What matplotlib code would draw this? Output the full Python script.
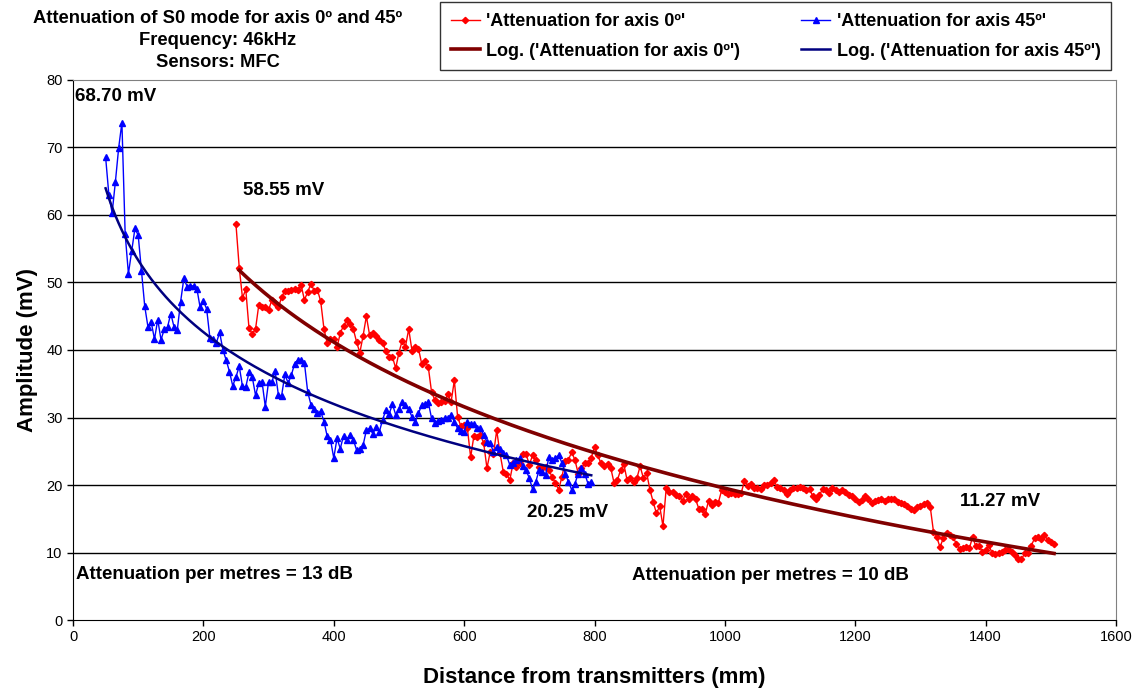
import numpy as np
import matplotlib.pyplot as plt

plt.rcParams['font.family'] = ['Liberation Sans', 'DejaVu Sans']

# sampling grid (mm)
step_mm = 5
start_45 = 50
start_0 = 250

# amplitude (mV), axis 45º
amp_45 = [
    68.6, 63.0, 60.3, 64.9, 69.9, 73.7, 57.2, 51.3, 54.7, 58.0, 57.0, 51.7, 46.5, 43.4, 44.1, 41.6,
    44.5, 41.5, 43.1, 43.4, 45.4, 43.4, 43.0, 47.1, 50.6, 49.4, 49.5, 49.5, 49.1, 46.3, 47.2, 46.1,
    41.8, 41.7, 41.1, 42.6, 40.0, 38.5, 36.8, 34.7, 36.0, 37.6, 34.6, 34.5, 36.7, 36.0, 33.3,
    35.1, 35.3, 31.6, 35.3, 35.2, 36.9, 33.4, 33.2, 36.4, 35.1, 36.3, 38.0, 38.5, 38.5, 38.1, 33.8,
    31.9, 31.2, 30.6, 30.9, 29.4, 27.2, 26.7, 24.0, 26.9, 25.4, 27.3, 26.7, 27.4, 26.7, 25.2, 25.3,
    25.9, 28.1, 28.4, 27.6, 28.6, 27.9, 29.7, 31.1, 30.5, 32.0, 30.4, 31.2, 32.3, 31.9, 31.2, 30.1,
    29.4, 30.6, 31.9, 32.0, 32.3, 29.9, 29.2, 29.5,
    29.6, 29.9, 29.9, 30.4, 29.4, 28.4, 28.0, 27.9, 29.4, 29.1, 29.0, 28.4, 28.4, 27.4, 26.4, 26.2,
    24.9, 25.7, 25.4, 24.7, 24.4, 23.0, 23.2, 23.7, 24.0, 22.8, 22.2, 21.0, 19.4, 20.5, 22.2, 22.0,
    21.5, 24.2, 23.7, 24.0, 24.4, 23.3, 21.7, 20.5, 19.3, 20.2, 21.7, 22.5, 21.7, 20.2, 20.5,
]

# amplitude (mV), axis 0º
amp_0 = [
    58.6, 52.2, 47.7, 49.0, 43.2, 42.4, 43.1, 46.7, 46.4, 46.3, 45.9, 47.4, 46.9, 46.3, 47.8, 48.8,
    48.8, 48.9, 49.0, 48.9, 49.6, 47.4, 48.6, 49.8, 48.8, 48.9, 47.2, 43.1, 41.0, 41.7, 41.6, 40.4,
    42.5, 43.6, 44.4, 43.9, 43.1, 41.2, 39.6, 42.1, 45.0, 42.2, 42.5, 42.0, 41.5, 41.0, 39.9, 39.0,
    39.0, 37.3, 39.6, 41.4, 40.5, 43.1, 39.9, 40.4, 40.2, 37.9, 38.3, 37.5, 33.8, 32.6, 32.2, 32.3,
    32.4, 33.5, 32.3, 35.5, 30.1,
    28.7, 28.9, 28.4, 24.1, 27.3, 27.1, 27.4, 26.2, 22.5, 24.9, 24.6, 28.1, 24.7, 22.0, 21.7, 20.7,
    23.2, 22.7, 23.2, 24.6, 24.6, 23.0, 24.4, 23.7, 22.7, 22.5, 22.7, 22.2, 21.2, 20.3, 19.3, 21.2,
    23.5, 23.7, 24.9, 23.7, 21.7, 22.5, 23.2, 23.3, 24.0, 25.7, 24.4, 23.2, 22.8, 23.1, 22.5, 20.3,
    20.7, 22.2,
    23.1, 20.7, 21.0, 20.5, 21.0, 22.8, 21.0, 21.8, 19.3, 17.5, 15.8, 16.9, 13.9, 19.5, 18.9, 19.0,
    18.5, 18.3, 17.7, 18.7, 18.0, 18.4, 17.9, 16.5, 16.4, 15.7, 17.7, 17.0, 17.5, 17.4, 19.2, 18.9,
    18.7, 18.8, 18.7, 18.6, 18.8, 20.6, 19.9, 20.2, 19.5, 19.5, 19.4, 20.0, 20.0, 20.3, 20.8, 19.7,
    19.5, 19.3, 18.7, 19.3, 19.5, 19.5, 19.7, 19.5,
    19.3, 19.4, 18.3, 18.0, 18.5, 19.4, 19.3, 18.8, 19.5, 19.3, 19.0, 19.3, 18.9, 18.5, 18.3, 18.0,
    17.5, 17.8, 18.4, 18.0, 17.3, 17.7, 17.8, 17.9, 17.6,
    18.0, 17.9, 17.9, 17.5, 17.3, 17.2, 16.9, 16.5, 16.3, 16.8, 16.9, 17.2, 17.4, 16.8, 13.1, 12.3,
    10.8, 12.1, 12.9, 12.6, 12.3, 11.3, 10.5, 10.6, 10.8, 10.6, 12.3, 10.9, 11.0, 10.1, 10.3, 11.1,
    9.9, 9.8, 10.0, 10.1, 10.3, 10.5, 10.1, 9.6, 9.1, 9.0, 9.9, 10.0, 11.0, 12.1, 12.3, 12.0,
    12.6, 11.9, 11.6, 11.3,
]

x_45 = start_45 + step_mm * np.arange(len(amp_45))
x_0 = start_0 + step_mm * np.arange(len(amp_0))

# annotations: (text, x mm, y mV)
notes = [
    ('68.70 mV', 3, 77.5),
    ('58.55 mV', 261, 63.7),
    ('20.25 mV', 696, 16.0),
    ('11.27 mV', 1360, 17.5),
    ('Attenuation per metres = 13 dB', 5, 6.7),
    ('Attenuation per metres = 10 dB', 857, 6.6),
]

x_ticks = list(range(0, 1601, 200))
y_ticks = list(range(0, 81, 10))

fig = plt.figure(figsize=(11.39, 6.93), dpi=100)
ax = fig.add_axes([0.0641, 0.1053, 0.9157, 0.7793])

ax.hlines(y_ticks[1:-1], 0, 1600, color='black', lw=1.0, zorder=1)

l0, = ax.plot(x_0, amp_0, color='#FF0000', lw=1.0, marker='D', ms=3.2,
              mec='#FF0000', mfc='#FF0000', zorder=3, label="'Attenuation for axis 0º'")
l45, = ax.plot(x_45, amp_45, color='#0000FF', lw=1.0, marker='^', ms=4.2,
               mec='#0000FF', mfc='#0000FF', zorder=3, label="'Attenuation for axis 45º'")

# logarithmic trendlines
c0 = np.polyfit(np.log(x_0), amp_0, 1)
c45 = np.polyfit(np.log(x_45), amp_45, 1)
xt0 = np.linspace(x_0[1], x_0[-1], 300)
xt45 = np.linspace(x_45[0], x_45[-1], 300)
t0, = ax.plot(xt0, c0[0] * np.log(xt0) + c0[1], color='#800000', lw=2.6, zorder=4,
              label="Log. ('Attenuation for axis 0º')")
t45, = ax.plot(xt45, c45[0] * np.log(xt45) + c45[1], color='#000080', lw=1.8, zorder=4,
               label="Log. ('Attenuation for axis 45º')")

ax.set_xlim(0, 1600)
ax.set_ylim(0, 80)
ax.set_xticks(x_ticks)
ax.set_yticks(y_ticks)
ax.tick_params(direction='out', length=4, width=1, labelsize=10.5, colors='black')
for s in ['top', 'right']:
    ax.spines[s].set_color('#808080')
for s in ['left', 'bottom']:
    ax.spines[s].set_color('black')

ax.set_xlabel('Distance from transmitters (mm)', fontsize=16, fontweight='bold', labelpad=16)
ax.set_ylabel('Amplitude (mV)', fontsize=16, fontweight='bold', labelpad=6)

for txt, xx, yy in notes:
    ax.text(xx, yy, txt, fontsize=13.5, fontweight='bold', ha='left', va='center')

fig.text(0.1914, 0.986, 'Attenuation of S0 mode for axis 0º and 45º\nFrequency: 46kHz\nSensors: MFC',
         ha='center', va='top', fontsize=13.2, fontweight='bold', linespacing=1.4)

leg = fig.legend(handles=[l0, t0, l45, t45], ncol=2, loc='upper left',
                 bbox_to_anchor=(0.3863, 0.997), frameon=True,
                 fancybox=False, edgecolor='black', handlelength=1.6,
                 columnspacing=3.4, borderpad=0.6, labelspacing=0.7, handletextpad=0.35,
                 borderaxespad=0, prop={'weight': 'bold', 'size': 13})
leg.get_frame().set_linewidth(1.0)

fig.savefig('out.png', dpi=100)
